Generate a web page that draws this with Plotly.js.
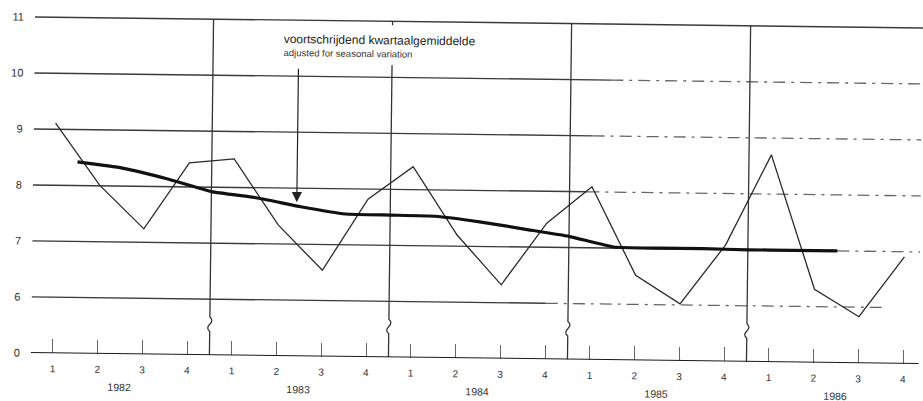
<!DOCTYPE html>
<html>
<head>
<meta charset="utf-8">
<script src="https://cdn.plot.ly/plotly-3.0.1.min.js"></script>
<style>
  html, body { margin: 0; padding: 0; background: #fff; }
  #chart { width: 923px; height: 401px; transform: rotate(0.71deg); transform-origin: 40px 17px; }
</style>
</head>
<body>
<div id="chart"></div>
<script>
// ---- data ----
const years = ['1982', '1983', '1984', '1985', '1986'];
const quarterNames = ['1', '2', '3', '4'];
// quarterly values (thin line), 1982 Q1 .. 1986 Q4
const quarterly = [9.11, 8.01, 7.24, 8.43, 8.51, 7.34, 6.54, 7.82, 8.41, 7.20,
                   6.32, 7.43, 8.09, 6.52, 6.02, 7.08, 8.70, 6.31, 5.83, 6.91];
// moving quarterly average adjusted for seasonal variation (thick line), centred between quarters
const movingAvg = [8.42, 8.32, 8.14, 7.92, 7.82, 7.67, 7.55, 7.54, 7.53, 7.44,
                   7.32, 7.20, 7.02, 7.01, 7.01, 7.00, 7.00, 7.00];
// y tick labels (axis broken between 0 and 6)
const yTickText = ['0', '6', '7', '8', '9', '10', '11'];
const yTickVals = [5, 6, 7, 8, 9, 10, 11];
const annoMain = 'voortschrijdend kwartaalgemiddelde';
const annoSub = 'adjusted for seasonal variation';

// ---- derived ----
const qx = quarterly.map((_, i) => i);
const qLabels = [];
years.forEach(() => quarterNames.forEach(q => qLabels.push(q)));
const maX = movingAvg.map((_, i) => i + 0.5);

const X0 = -0.49, X1 = 19.35;
const gridCol = '#3a3a3a';
const FONT = 'Liberation Sans, Arial, sans-serif';
const shapes = [];
// horizontal grid lines: solid part then dash-dot continuation
const dashStart = { 11: null, 10: 12.4, 9: 12.0, 8: 11.9, 7: 17.5, 6: 11.0 };
const gridEnd = { 11: X1, 10: X1, 9: X1, 8: X1, 7: X1, 6: 18.6 };
[11, 10, 9, 8, 7, 6].forEach(v => {
  const ds = dashStart[v];
  shapes.push({ type: 'line', xref: 'x', yref: 'y', x0: X0, x1: ds === null ? gridEnd[v] : ds, y0: v, y1: v,
                line: { color: gridCol, width: 1.4 }, layer: 'below' });
  if (ds !== null) {
    shapes.push({ type: 'line', xref: 'x', yref: 'y', x0: ds, x1: gridEnd[v], y0: v, y1: v,
                  line: { color: '#666', width: 1.3, dash: '12px,6px,3px,6px' }, layer: 'below' });
  }
});
// baseline (zero line of the broken axis)
shapes.push({ type: 'line', xref: 'x', yref: 'y', x0: X0, x1: X1, y0: 5, y1: 5,
              line: { color: '#1a1a1a', width: 2 }, layer: 'above' });
// year dividers with small break squiggle
[3.5, 7.5, 11.5, 15.5].forEach(d => {
  shapes.push({ type: 'path', xref: 'x', yref: 'y', layer: 'below',
    path: `M${d},11 L${d},5.68 Q${d + 0.09},5.62 ${d},5.55 Q${d - 0.09},5.48 ${d},5.42 L${d},5`,
    line: { color: '#333', width: 1.3 } });
});
// white label box interrupting the divider behind the annotation text
shapes.push({ type: 'rect', xref: 'x', yref: 'y', x0: 4.95, x1: 9.65, y0: 10.22, y1: 10.93,
              fillcolor: '#fff', line: { width: 0 }, layer: 'below' });

const traces = [
  { x: qx, y: quarterly, type: 'scatter', mode: 'lines',
    line: { color: '#2a2a2a', width: 1.3 }, hoverinfo: 'skip', showlegend: false },
  { x: maX, y: movingAvg, type: 'scatter', mode: 'lines',
    line: { color: '#111', width: 3.2, shape: 'spline', smoothing: 0.4 }, hoverinfo: 'skip', showlegend: false }
];

const annotations = [
  { xref: 'x', yref: 'y', x: 5.05, y: 10.66, xanchor: 'left', yanchor: 'middle', showarrow: false,
    text: annoMain, font: { family: FONT, size: 12, color: '#222' }, borderpad: 0 },
  { xref: 'x', yref: 'y', x: 5.05, y: 10.42, xanchor: 'left', yanchor: 'middle', showarrow: false,
    text: annoSub, font: { family: FONT, size: 9.5, color: '#333' }, borderpad: 0 },
  { xref: 'x', yref: 'y', x: 5.41, y: 7.75, text: '', showarrow: true, ax: 0, ay: -135,
    arrowhead: 2, arrowsize: 1.7, arrowwidth: 1.2, arrowcolor: '#222' }
];
years.forEach((yr, k) => {
  annotations.push({ xref: 'x', yref: 'paper', x: 1.5 + 4 * k, y: 0, yanchor: 'top', yshift: -25,
    showarrow: false, text: yr, font: { family: FONT, size: 10.5, color: '#333' } });
});

const layout = {
  width: 923, height: 401,
  margin: { l: 35, r: 0, t: 10, b: 48 },
  paper_bgcolor: '#fff', plot_bgcolor: '#fff',
  showlegend: false,
  xaxis: {
    range: [X0, X1], tickvals: qx, ticktext: qLabels,
    ticks: 'inside', ticklen: 14, tickwidth: 1, tickcolor: '#666',
    showline: false, showgrid: false, zeroline: false, ticklabelstandoff: 8,
    tickfont: { family: FONT, size: 10, color: '#333' }
  },
  yaxis: {
    range: [5, 11.125], tickvals: yTickVals, ticktext: yTickText,
    ticks: '', showline: false, showgrid: false, zeroline: false, ticklabelstandoff: 10,
    tickfont: { family: FONT, size: 11, color: '#333' }
  },
  shapes: shapes,
  annotations: annotations
};

Plotly.newPlot('chart', traces, layout, { staticPlot: true, displayModeBar: false });
</script>
</body>
</html>
